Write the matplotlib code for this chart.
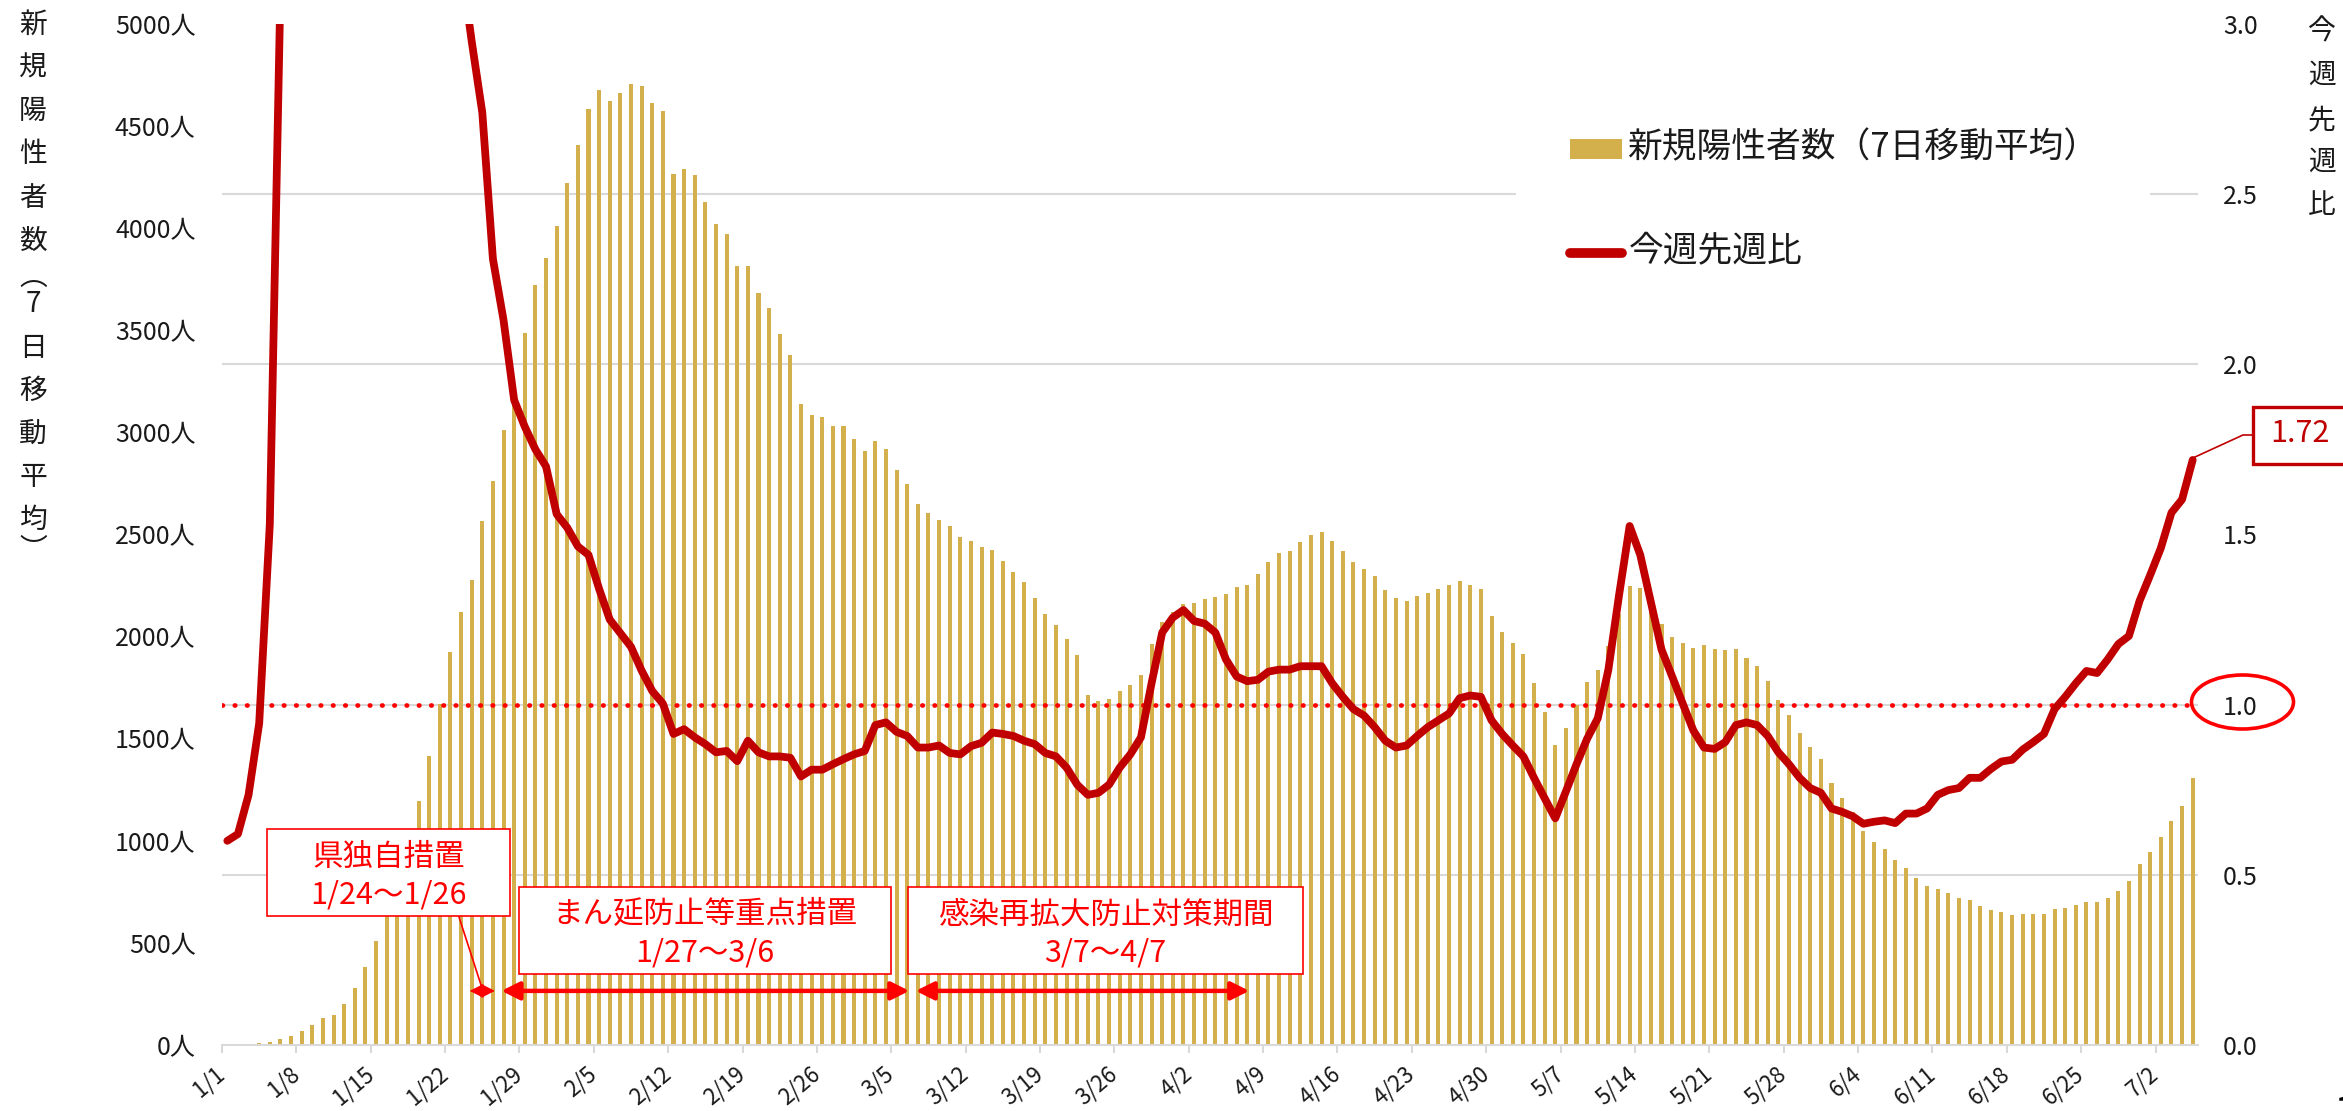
import matplotlib
matplotlib.use("Agg")
import matplotlib.pyplot as plt
from matplotlib.patches import Rectangle, Ellipse
from matplotlib.lines import Line2D
import numpy as np

plt.rcParams["font.family"] = ["Noto Sans CJK JP", "DejaVu Sans"]

# 7-day moving average of new cases, one value per day from 1/1 to 7/5
cases = [
    2, 4, 7, 11, 17, 28, 42,
    70, 99, 132, 149, 199, 281, 381,
    509, 640, 775, 935, 1193, 1414, 1672,
    1927, 2119, 2275, 2566, 2761, 3010, 3145,
    3485, 3724, 3854, 4012, 4220, 4408, 4585,
    4677, 4621, 4660, 4705, 4698, 4611, 4574,
    4266, 4289, 4260, 4126, 4020, 3970, 3814,
    3814, 3683, 3608, 3484, 3378, 3139, 3083,
    3073, 3030, 3030, 2970, 2907, 2960, 2920,
    2814, 2745, 2649, 2606, 2569, 2543, 2490,
    2470, 2437, 2424, 2371, 2318, 2265, 2189,
    2109, 2056, 1986, 1910, 1712, 1685, 1692,
    1735, 1761, 1811, 1963, 2073, 2119, 2159,
    2165, 2185, 2192, 2208, 2242, 2252, 2308,
    2367, 2407, 2417, 2463, 2497, 2510, 2467,
    2417, 2364, 2331, 2298, 2228, 2189, 2175,
    2198, 2212, 2232, 2252, 2271, 2255, 2232,
    2099, 2023, 1967, 1916, 1772, 1630, 1468,
    1554, 1665, 1780, 1835, 1956, 2110, 2250,
    2237, 2150, 2060, 1998, 1968, 1945, 1957,
    1941, 1935, 1938, 1897, 1856, 1782, 1690,
    1615, 1526, 1461, 1399, 1283, 1210, 1140,
    1046, 993, 960, 904, 867, 818, 781,
    762, 742, 718, 709, 679, 659, 649,
    639, 642, 642, 642, 666, 669, 685,
    702, 702, 722, 755, 801, 884, 944,
    1020, 1099, 1169, 1308,
]

# week-over-week ratio (values above 3.0 run off the top of the chart)
ratio = [
    0.60, 0.62, 0.735, 0.945, 1.53, 3.10, 5.0,
    6.5, 7.0, 7.5, 6.8, 6.2, 6.0, 5.4,
    5.1, 4.6, 4.3, 4.1, 4.0, 3.9, 3.7,
    3.5, 3.18, 2.95, 2.74, 2.31, 2.13, 1.895,
    1.817, 1.75, 1.70, 1.56, 1.52, 1.465, 1.44,
    1.34, 1.25, 1.21, 1.17, 1.10, 1.04, 1.003,
    0.914, 0.928, 0.904, 0.884, 0.860, 0.864, 0.834,
    0.894, 0.860, 0.848, 0.848, 0.844, 0.789, 0.809,
    0.809, 0.825, 0.840, 0.854, 0.864, 0.940, 0.948,
    0.920, 0.908, 0.874, 0.874, 0.880, 0.858, 0.854,
    0.878, 0.888, 0.918, 0.914, 0.908, 0.894, 0.884,
    0.858, 0.848, 0.815, 0.765, 0.735, 0.741, 0.765,
    0.815, 0.854, 0.904, 1.063, 1.212, 1.256, 1.278,
    1.246, 1.238, 1.212, 1.133, 1.083, 1.069, 1.073,
    1.097, 1.103, 1.103, 1.113, 1.113, 1.113, 1.063,
    1.023, 0.987, 0.968, 0.934, 0.894, 0.874, 0.880,
    0.908, 0.934, 0.954, 0.974, 1.019, 1.027, 1.023,
    0.954, 0.914, 0.880, 0.848, 0.785, 0.725, 0.666,
    0.745, 0.825, 0.900, 0.960, 1.103, 1.321, 1.525,
    1.44, 1.301, 1.162, 1.083, 1.003, 0.924, 0.874,
    0.870, 0.890, 0.940, 0.948, 0.940, 0.908, 0.860,
    0.825, 0.785, 0.755, 0.741, 0.695, 0.685, 0.672,
    0.650, 0.656, 0.660, 0.652, 0.680, 0.680, 0.695,
    0.735, 0.749, 0.755, 0.785, 0.785, 0.811, 0.833,
    0.838, 0.868, 0.890, 0.914, 0.987, 1.023, 1.063,
    1.099, 1.093, 1.133, 1.178, 1.202, 1.305, 1.381,
    1.460, 1.564, 1.603, 1.719,
]

date_labels = ["1/1", "1/8", "1/15", "1/22", "1/29", "2/5", "2/12", "2/19",
               "2/26", "3/5", "3/12", "3/19", "3/26", "4/2", "4/9", "4/16",
               "4/23", "4/30", "5/7", "5/14", "5/21", "5/28", "6/4", "6/11",
               "6/18", "6/25", "7/2"]
left_labels = ["0人", "500人", "1000人", "1500人", "2000人", "2500人",
               "3000人", "3500人", "4000人", "4500人", "5000人"]
right_labels = ["0.0", "0.5", "1.0", "1.5", "2.0", "2.5", "3.0"]

# measures: name, period text, first day index, last day index
period_names = ["県独自措置", "まん延防止等重点措置", "感染再拡大防止対策期間"]
period_texts = ["1/24～1/26", "1/27～3/6", "3/7～4/7"]
period_start = [23, 26, 65]
period_end = [25, 64, 96]

GOLD = "#D4B04C"
DARKRED = "#C00000"
RED = "#FF0000"
GRID = "#D9D9D9"
TXT = "#1a1a1a"

W, H = 2343, 1111


def fx(x):
    return x / W


def fy(y):
    return 1 - y / H


fig = plt.figure(figsize=(W / 100, H / 100), dpi=100)
ax = fig.add_axes([fx(222), fy(1045), (2198 - 222) / W, (1045 - 24) / H])

days = np.arange(len(cases)) + 0.5
ax.bar(days, cases, width=0.38, color=GOLD, zorder=2)
ax.set_xlim(0, len(cases))
ax.set_ylim(0, 5000)

ax.set_yticks(np.arange(0, 5001, 500))
ax.set_yticklabels(left_labels, fontsize=18, color=TXT)
# gridlines follow the right-hand axis (every 0.5)
ax.set_yticks(np.linspace(0, 5000, 7), minor=True)
ax.grid(which="minor", axis="y", color=GRID, lw=1.5)
ax.set_axisbelow(True)
ax.tick_params(axis="y", which="both", length=0, pad=19)

ax.set_xticks(np.arange(0, 183, 7))
ax.set_xticklabels(date_labels, rotation=40, ha="right", va="center",
                   rotation_mode="anchor", fontsize=16, color=TXT)
ax.tick_params(axis="x", length=6, width=1.5, color=GRID, pad=13)

for s in ["top", "left", "right"]:
    ax.spines[s].set_visible(False)
ax.spines["bottom"].set_color(GRID)
ax.spines["bottom"].set_linewidth(1.5)

ax2 = ax.twinx()
ax2.set_ylim(0, 3)
ax2.axhline(1.0, color=RED, lw=3.4, linestyle=(0, (0.1, 2.5)),
            dash_capstyle="round", zorder=2)
ax2.plot(days, ratio, color=DARKRED, lw=5.6, solid_joinstyle="round",
         solid_capstyle="round", zorder=3)
ax2.set_yticks(np.arange(0, 3.01, 0.5))
ax2.set_yticklabels(right_labels, fontsize=18, color=TXT)
ax2.tick_params(axis="y", length=0, pad=18)
for s in ax2.spines.values():
    s.set_visible(False)

# measure periods: double arrows along the bottom
for i in range(len(period_names)):
    small = period_end[i] - period_start[i] < 5
    ax.annotate("", xy=(period_end[i] + 0.7, 0.053),
                xytext=(period_start[i] + 0.3, 0.053),
                xycoords=("data", "axes fraction"),
                textcoords=("data", "axes fraction"),
                arrowprops=dict(arrowstyle="<|-|>,head_length=0.7,head_width=0.35"
                                if small else
                                "<|-|>,head_length=0.9,head_width=0.45",
                                color=RED, lw=1.2 if small else 3.2,
                                mutation_scale=12, shrinkA=0, shrinkB=0),
                zorder=5)

boxes = [(267, 829, 510, 916), (519, 887, 891, 974), (908, 887, 1303, 974)]
for (x0, y0, x1, y1), name, txt in zip(boxes, period_names, period_texts):
    fig.patches.append(Rectangle((fx(x0), fy(y1)), (x1 - x0) / W, (y1 - y0) / H,
                                 transform=fig.transFigure, facecolor="white",
                                 edgecolor=RED, lw=1.2, zorder=5))
    cx = (x0 + x1) / 2
    fig.text(fx(cx), fy(y0 + 28), name, color=RED, fontsize=22,
             ha="center", va="center", zorder=6)
    fig.text(fx(cx), fy(y0 + 66), txt, color=RED, fontsize=22,
             ha="center", va="center", zorder=6)

fig.lines.append(Line2D([fx(459), fx(482)], [fy(917), fy(988)],
                        transform=fig.transFigure, color=RED, lw=1.2, zorder=6))

# legend
fig.patches.append(Rectangle((fx(1516), fy(300)), (2150 - 1516) / W, 205 / H,
                             transform=fig.transFigure, facecolor="white",
                             edgecolor="none", zorder=4))
fig.patches.append(Rectangle((fx(1570), fy(159)), 52 / W, 20 / H,
                             transform=fig.transFigure, facecolor=GOLD,
                             edgecolor="none", zorder=5))
fig.text(fx(1627), fy(148), "新規陽性者数（7日移動平均）", fontsize=25,
         color=TXT, ha="left", va="center", zorder=6)
fig.lines.append(Line2D([fx(1570), fx(1622)], [fy(253), fy(253)],
                        transform=fig.transFigure, color=DARKRED, lw=7,
                        solid_capstyle="round", zorder=6))
fig.text(fx(1629), fy(252), "今週先週比", fontsize=25, color=TXT,
         ha="left", va="center", zorder=6)

# latest value call-out
fig.lines.append(Line2D([fx(2195), fx(2243), fx(2253)], [fy(457), fy(435), fy(435)],
                        transform=fig.transFigure, color=DARKRED, lw=1.2, zorder=6))
fig.patches.append(Rectangle((fx(2253), fy(464)), 100 / W, 57 / H,
                             transform=fig.transFigure, facecolor="white",
                             edgecolor=DARKRED, lw=2.4, zorder=5))
fig.text(fx(2300), fy(434), f"{ratio[-1]:.2f}", fontsize=22, color=DARKRED,
         ha="center", va="center", zorder=6)

# circle round the 1.0 mark
fig.patches.append(Ellipse((fx(2242.5), fy(702)), 102 / W, 54 / H,
                           transform=fig.transFigure, facecolor="none",
                           edgecolor=RED, lw=2.6, zorder=6))

# vertical axis titles
left_title = ["新", "規", "陽", "性", "者", "数", "︵", "7", "日", "移", "動", "平", "均", "︶"]
left_y = [25, 68, 111, 154, 198, 241, 277, 304, 348, 391, 434, 477, 520, 550]
for ch, y in zip(left_title, left_y):
    fig.text(fx(33), fy(y), ch, fontsize=20, color=TXT, ha="center", va="center")

right_title = ["今", "週", "先", "週", "比"]
right_y = [32, 75, 120, 162, 205]
for ch, y in zip(right_title, right_y):
    fig.text(fx(2322), fy(y), ch, fontsize=20, color=TXT, ha="center", va="center")

# page number peeking in at the corner
fig.text(fx(2335), fy(1094), "1", fontsize=22, fontweight="bold", color="black",
         ha="left", va="top")

fig.savefig("out.png", dpi=100)
